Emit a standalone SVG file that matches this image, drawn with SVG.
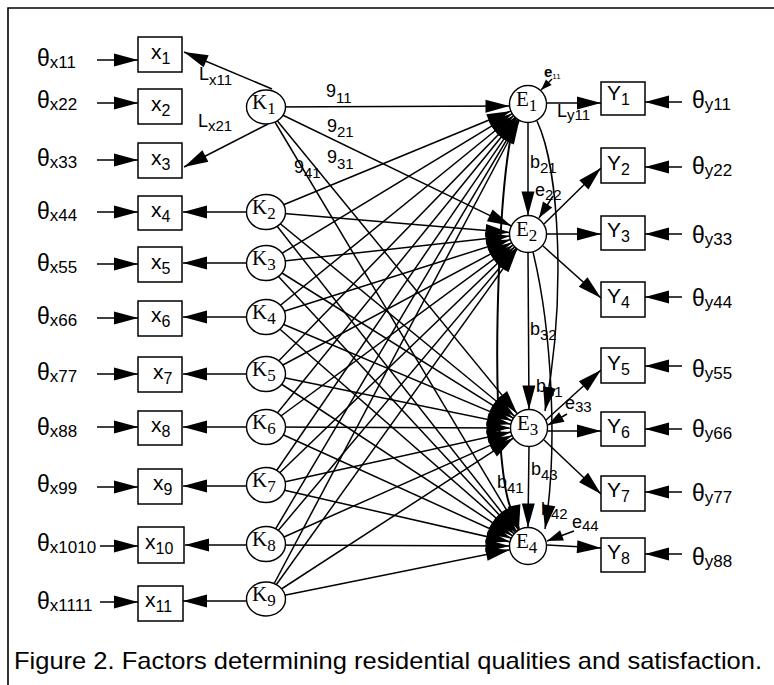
<svg xmlns="http://www.w3.org/2000/svg" width="774" height="685" viewBox="0 0 774 685">
<style>
.frame{fill:none;stroke:#000;stroke-width:1.6}
.box{fill:#fff;stroke:#000;stroke-width:1.5}
.circ{fill:#fff;stroke:#000;stroke-width:1.4}
.ln{stroke:#000;stroke-width:1.5;fill:none}
text{font-family:"Liberation Sans",Arial,sans-serif;fill:#000}
.th{font-size:23px}
.ts{font-size:17px}
.xl{font-size:21px}
.xs{font-size:16px}
.yl{font-size:21px}
.ys{font-size:16px}
.sf{font-family:"Liberation Serif","Times New Roman",serif;font-size:21px}
.sfs{font-family:"Liberation Serif","Times New Roman",serif;font-size:17px}
.lb{font-size:18px}
.lbs{font-size:15px}
.cap{font-size:24px}
</style>
<defs>
<marker id="a" markerUnits="userSpaceOnUse" markerWidth="24" markerHeight="13" refX="24" refY="6.5" orient="auto" overflow="visible"><path d="M0,0 L24,6.5 L0,13 z" fill="#000"/></marker>
<marker id="aE" markerUnits="userSpaceOnUse" markerWidth="24" markerHeight="13" refX="42.5" refY="6.5" orient="auto" overflow="visible"><path d="M0,0 L24,6.5 L0,13 z" fill="#000"/></marker>
<marker id="s" markerUnits="userSpaceOnUse" markerWidth="16" markerHeight="11" refX="16" refY="5.5" orient="auto" overflow="visible"><path d="M0,0 L16,5.5 L0,11 z" fill="#000"/></marker>
<marker id="t" markerUnits="userSpaceOnUse" markerWidth="11" markerHeight="8" refX="11" refY="4" orient="auto" overflow="visible"><path d="M0,0 L11,4 L0,8 z" fill="#000"/></marker>
</defs>
<rect width="774" height="685" fill="#fff"/>
<path class="frame" d="M8,685 V8 H774"/>

<g id="connectors" class="ln">
<line x1="97" y1="60" x2="138" y2="60" marker-end="url(#a)"/>
<line x1="97" y1="103" x2="138" y2="103" marker-end="url(#a)"/>
<line x1="97" y1="160" x2="138" y2="160" marker-end="url(#a)"/>
<line x1="97" y1="212" x2="138" y2="212" marker-end="url(#a)"/>
<line x1="97" y1="264" x2="138" y2="264" marker-end="url(#a)"/>
<line x1="97" y1="318" x2="138" y2="318" marker-end="url(#a)"/>
<line x1="97" y1="374" x2="138" y2="374" marker-end="url(#a)"/>
<line x1="97" y1="427" x2="138" y2="427" marker-end="url(#a)"/>
<line x1="97" y1="487" x2="138" y2="487" marker-end="url(#a)"/>
<line x1="100" y1="546" x2="138" y2="546" marker-end="url(#a)"/>
<line x1="100" y1="602" x2="138" y2="602" marker-end="url(#a)"/>
<line x1="272" y1="89" x2="184" y2="52" marker-end="url(#a)"/>
<line x1="268" y1="124" x2="184" y2="167" marker-end="url(#a)"/>
<line x1="247" y1="212" x2="183" y2="212" marker-end="url(#a)"/>
<line x1="247" y1="263" x2="183" y2="263" marker-end="url(#a)"/>
<line x1="247" y1="317" x2="183" y2="317" marker-end="url(#a)"/>
<line x1="247" y1="374" x2="183" y2="374" marker-end="url(#a)"/>
<line x1="247" y1="427" x2="183" y2="427" marker-end="url(#a)"/>
<line x1="247" y1="486" x2="183" y2="486" marker-end="url(#a)"/>
<line x1="247" y1="545" x2="185" y2="545" marker-end="url(#a)"/>
<line x1="247" y1="601" x2="183" y2="601" marker-end="url(#a)"/>
<line x1="266" y1="107" x2="528" y2="106" marker-end="url(#aE)"/>
<line x1="266" y1="107" x2="528" y2="234" marker-end="url(#aE)"/>
<line x1="266" y1="107" x2="529" y2="428" marker-end="url(#aE)"/>
<line x1="266" y1="107" x2="528" y2="546" marker-end="url(#aE)"/>
<line x1="266" y1="212" x2="528" y2="104" marker-end="url(#aE)"/>
<line x1="266" y1="212" x2="528" y2="234" marker-end="url(#aE)"/>
<line x1="266" y1="212" x2="529" y2="428" marker-end="url(#aE)"/>
<line x1="266" y1="212" x2="528" y2="546" marker-end="url(#aE)"/>
<line x1="266" y1="263" x2="528" y2="104" marker-end="url(#aE)"/>
<line x1="266" y1="263" x2="528" y2="234" marker-end="url(#aE)"/>
<line x1="266" y1="263" x2="529" y2="428" marker-end="url(#aE)"/>
<line x1="266" y1="263" x2="528" y2="546" marker-end="url(#aE)"/>
<line x1="266" y1="317" x2="528" y2="104" marker-end="url(#aE)"/>
<line x1="266" y1="317" x2="528" y2="234" marker-end="url(#aE)"/>
<line x1="266" y1="317" x2="529" y2="428" marker-end="url(#aE)"/>
<line x1="266" y1="317" x2="528" y2="546" marker-end="url(#aE)"/>
<line x1="266" y1="374" x2="528" y2="104" marker-end="url(#aE)"/>
<line x1="266" y1="374" x2="528" y2="234" marker-end="url(#aE)"/>
<line x1="266" y1="374" x2="529" y2="428" marker-end="url(#aE)"/>
<line x1="266" y1="374" x2="528" y2="546" marker-end="url(#aE)"/>
<line x1="266" y1="427" x2="528" y2="104" marker-end="url(#aE)"/>
<line x1="266" y1="427" x2="528" y2="234" marker-end="url(#aE)"/>
<line x1="266" y1="427" x2="529" y2="428" marker-end="url(#aE)"/>
<line x1="266" y1="427" x2="528" y2="546" marker-end="url(#aE)"/>
<line x1="266" y1="486" x2="528" y2="104" marker-end="url(#aE)"/>
<line x1="266" y1="486" x2="528" y2="234" marker-end="url(#aE)"/>
<line x1="266" y1="486" x2="529" y2="428" marker-end="url(#aE)"/>
<line x1="266" y1="486" x2="528" y2="546" marker-end="url(#aE)"/>
<line x1="266" y1="545" x2="528" y2="104" marker-end="url(#aE)"/>
<line x1="266" y1="545" x2="528" y2="234" marker-end="url(#aE)"/>
<line x1="266" y1="545" x2="529" y2="428" marker-end="url(#aE)"/>
<line x1="266" y1="545" x2="528" y2="546" marker-end="url(#aE)"/>
<line x1="266" y1="599" x2="528" y2="104" marker-end="url(#aE)"/>
<line x1="266" y1="599" x2="528" y2="234" marker-end="url(#aE)"/>
<line x1="266" y1="599" x2="529" y2="428" marker-end="url(#aE)"/>
<line x1="266" y1="599" x2="528" y2="546" marker-end="url(#aE)"/>
<line x1="528" y1="122" x2="528" y2="215.5" marker-end="url(#a)"/>
<line x1="528" y1="252.5" x2="529" y2="409.5" marker-end="url(#a)"/>
<line x1="529" y1="446.5" x2="528" y2="527.5" marker-end="url(#a)"/>
<path d="M537,121 C560,170 566,300 545,411" marker-end="url(#a)"/>
<path d="M533,252 C552,330 558,450 545,529" marker-end="url(#a)"/>
<path d="M515,118 C498,180 494,360 500,440 S515,510 519,529" marker-end="url(#a)" stroke-width="2"/>
<line x1="552" y1="79" x2="541" y2="90" marker-end="url(#t)"/>
<line x1="553" y1="196" x2="539" y2="218" marker-end="url(#s)"/>
<line x1="567" y1="414" x2="548" y2="425" marker-end="url(#s)"/>
<line x1="574" y1="531" x2="547" y2="541" marker-end="url(#s)"/>
<line x1="547" y1="103" x2="601" y2="103" marker-end="url(#a)"/>
<line x1="544" y1="224" x2="601" y2="168" marker-end="url(#a)"/>
<line x1="547" y1="234" x2="601" y2="234" marker-end="url(#a)"/>
<line x1="543" y1="246" x2="601" y2="298" marker-end="url(#a)"/>
<line x1="546" y1="420" x2="601" y2="370" marker-end="url(#a)"/>
<line x1="548" y1="431" x2="601" y2="431" marker-end="url(#a)"/>
<line x1="544" y1="440" x2="601" y2="494" marker-end="url(#a)"/>
<line x1="547" y1="545" x2="601" y2="548" marker-end="url(#a)"/>
<line x1="682" y1="102" x2="645" y2="102" marker-end="url(#a)"/>
<line x1="682" y1="167" x2="645" y2="167" marker-end="url(#a)"/>
<line x1="682" y1="234" x2="645" y2="234" marker-end="url(#a)"/>
<line x1="682" y1="297" x2="645" y2="297" marker-end="url(#a)"/>
<line x1="682" y1="366" x2="645" y2="366" marker-end="url(#a)"/>
<line x1="682" y1="429" x2="645" y2="429" marker-end="url(#a)"/>
<line x1="682" y1="492" x2="645" y2="492" marker-end="url(#a)"/>
<line x1="682" y1="554" x2="645" y2="554" marker-end="url(#a)"/>
</g>

<g id="path-labels">
<text class="lb" x="199" y="80" font-size="16">L<tspan class="lbs" dy="5">x11</tspan></text>
<text class="lb" x="198" y="127" font-size="16">L<tspan class="lbs" dy="4">x21</tspan></text>
<text class="lb" x="326" y="97">9<tspan class="lbs" dy="6">11</tspan></text>
<text class="lb" x="327" y="132">9<tspan class="lbs" dy="5">21</tspan></text>
<text class="lb" x="327" y="163">9<tspan class="lbs" dy="6">31</tspan></text>
<text class="lb" x="294" y="173">9<tspan class="lbs" dy="5">41</tspan></text>
<text class="lb" x="530" y="168" font-size="19">b<tspan class="lbs" dy="5">21</tspan></text>
<text class="lb" x="530" y="335" font-size="19">b<tspan class="lbs" dy="5">32</tspan></text>
<text class="lb" x="536" y="392" font-size="19">b<tspan class="lbs" dy="5">31</tspan></text>
<text class="lb" x="531" y="475" font-size="19">b<tspan class="lbs" dy="5">43</tspan></text>
<text class="lb" x="497" y="488" font-size="19">b<tspan class="lbs" dy="5">41</tspan></text>
<text class="lb" x="541" y="515" font-size="19">b<tspan class="lbs" dy="4">42</tspan></text>
<text class="lb" x="557" y="117" font-size="16">L<tspan class="lbs" dy="3">y11</tspan></text>
<text x="544" y="77" font-size="15" font-weight="bold">e<tspan font-size="8" font-weight="normal" dy="2">11</tspan></text>
<text class="lb" x="535" y="196" font-size="17">e<tspan class="lbs" dy="4">22</tspan></text>
<text class="lb" x="565" y="409" font-size="17">e<tspan class="lbs" dy="3">33</tspan></text>
<text class="lb" x="572" y="528" font-size="17">e<tspan class="lbs" dy="3">44</tspan></text>
</g>

<g id="theta-x">
<text class="th" x="37" y="66">θ<tspan class="ts" dy="2">x11</tspan></text>
<text class="th" x="37" y="108">θ<tspan class="ts" dy="2">x22</tspan></text>
<text class="th" x="37" y="166">θ<tspan class="ts" dy="2">x33</tspan></text>
<text class="th" x="37" y="219">θ<tspan class="ts" dy="2">x44</tspan></text>
<text class="th" x="37" y="271">θ<tspan class="ts" dy="2">x55</tspan></text>
<text class="th" x="37" y="324">θ<tspan class="ts" dy="2">x66</tspan></text>
<text class="th" x="37" y="380">θ<tspan class="ts" dy="2">x77</tspan></text>
<text class="th" x="37" y="435">θ<tspan class="ts" dy="2">x88</tspan></text>
<text class="th" x="37" y="492">θ<tspan class="ts" dy="2">x99</tspan></text>
<text class="th" x="37" y="551">θ<tspan class="ts" dy="2">x1010</tspan></text>
<text class="th" x="37" y="609">θ<tspan class="ts" dy="2">x1111</tspan></text>
</g>

<g id="theta-y">
<text class="th" x="692" y="108">θ<tspan class="ts" dy="2">y11</tspan></text>
<text class="th" x="692" y="174">θ<tspan class="ts" dy="2">y22</tspan></text>
<text class="th" x="692" y="243">θ<tspan class="ts" dy="2">y33</tspan></text>
<text class="th" x="692" y="306">θ<tspan class="ts" dy="2">y44</tspan></text>
<text class="th" x="692" y="377">θ<tspan class="ts" dy="2">y55</tspan></text>
<text class="th" x="692" y="437">θ<tspan class="ts" dy="2">y66</tspan></text>
<text class="th" x="692" y="501">θ<tspan class="ts" dy="2">y77</tspan></text>
<text class="th" x="692" y="565">θ<tspan class="ts" dy="2">y88</tspan></text>
</g>

<g id="x1"><rect class="box" x="138" y="37" width="44" height="35"/><text class="xl" x="151" y="59">x<tspan class="xs" dy="5">1</tspan></text></g>
<g id="x2"><rect class="box" x="138" y="89" width="44" height="35"/><text class="xl" x="151" y="111">x<tspan class="xs" dy="5">2</tspan></text></g>
<g id="x3"><rect class="box" x="138" y="143" width="44" height="35"/><text class="xl" x="151" y="165">x<tspan class="xs" dy="5">3</tspan></text></g>
<g id="x4"><rect class="box" x="138" y="196" width="44" height="34"/><text class="xl" x="151" y="217">x<tspan class="xs" dy="5">4</tspan></text></g>
<g id="x5"><rect class="box" x="138" y="247" width="44" height="35"/><text class="xl" x="151" y="269">x<tspan class="xs" dy="5">5</tspan></text></g>
<g id="x6"><rect class="box" x="138" y="301" width="44" height="35"/><text class="xl" x="151" y="322">x<tspan class="xs" dy="5">6</tspan></text></g>
<g id="x7"><rect class="box" x="138" y="357" width="44" height="35"/><text class="xl" x="153" y="379">x<tspan class="xs" dy="5">7</tspan></text></g>
<g id="x8"><rect class="box" x="138" y="411" width="44" height="34"/><text class="xl" x="151" y="432">x<tspan class="xs" dy="5">8</tspan></text></g>
<g id="x9"><rect class="box" x="138" y="469" width="44" height="35"/><text class="xl" x="153" y="490">x<tspan class="xs" dy="5">9</tspan></text></g>
<g id="x10"><rect class="box" x="138" y="527" width="46" height="36"/><text class="xl" x="145" y="549">x<tspan class="xs" dy="5">10</tspan></text></g>
<g id="x11"><rect class="box" x="138" y="586" width="45" height="35"/><text class="xl" x="145" y="607">x<tspan class="xs" dy="5">11</tspan></text></g>

<g id="K1"><ellipse class="circ" cx="266" cy="107" rx="19.5" ry="17"/><text class="sf" x="252" y="109">K<tspan class="sfs" dy="5">1</tspan></text></g>
<g id="K2"><ellipse class="circ" cx="266" cy="212" rx="19.5" ry="17.5"/><text class="sf" x="252" y="214">K<tspan class="sfs" dy="5">2</tspan></text></g>
<g id="K3"><ellipse class="circ" cx="266" cy="263" rx="19.5" ry="17.5"/><text class="sf" x="252" y="265">K<tspan class="sfs" dy="5">3</tspan></text></g>
<g id="K4"><ellipse class="circ" cx="266" cy="317" rx="19.5" ry="17.5"/><text class="sf" x="252" y="319">K<tspan class="sfs" dy="5">4</tspan></text></g>
<g id="K5"><ellipse class="circ" cx="266" cy="374" rx="19.5" ry="17.5"/><text class="sf" x="252" y="376">K<tspan class="sfs" dy="5">5</tspan></text></g>
<g id="K6"><ellipse class="circ" cx="266" cy="427" rx="19.5" ry="17.5"/><text class="sf" x="252" y="429">K<tspan class="sfs" dy="5">6</tspan></text></g>
<g id="K7"><ellipse class="circ" cx="266" cy="485" rx="19.5" ry="17.5"/><text class="sf" x="252" y="487">K<tspan class="sfs" dy="5">7</tspan></text></g>
<g id="K8"><ellipse class="circ" cx="266" cy="544" rx="19.5" ry="17.5"/><text class="sf" x="252" y="546">K<tspan class="sfs" dy="5">8</tspan></text></g>
<g id="K9"><ellipse class="circ" cx="266" cy="599" rx="19.5" ry="17"/><text class="sf" x="252" y="601">K<tspan class="sfs" dy="5">9</tspan></text></g>

<g id="E1"><circle class="circ" cx="528" cy="104" r="18.5"/><text class="sf" x="516" y="106">E<tspan class="sfs" dy="5">1</tspan></text></g>
<g id="E2"><circle class="circ" cx="528" cy="234" r="18.5"/><text class="sf" x="516" y="236">E<tspan class="sfs" dy="5">2</tspan></text></g>
<g id="E3"><circle class="circ" cx="529" cy="428" r="18.5"/><text class="sf" x="517" y="430">E<tspan class="sfs" dy="5">3</tspan></text></g>
<g id="E4"><circle class="circ" cx="528" cy="546" r="18.5"/><text class="sf" x="516" y="548">E<tspan class="sfs" dy="5">4</tspan></text></g>

<g id="Y1"><rect class="box" x="601" y="82" width="44" height="33"/><text class="yl" x="607" y="100">Y<tspan class="ys" dy="5">1</tspan></text></g>
<g id="Y2"><rect class="box" x="601" y="148" width="44" height="35"/><text class="yl" x="607" y="170">Y<tspan class="ys" dy="5">2</tspan></text></g>
<g id="Y3"><rect class="box" x="601" y="216" width="44" height="34"/><text class="yl" x="607" y="237">Y<tspan class="ys" dy="5">3</tspan></text></g>
<g id="Y4"><rect class="box" x="601" y="282" width="44" height="35"/><text class="yl" x="607" y="303">Y<tspan class="ys" dy="5">4</tspan></text></g>
<g id="Y5"><rect class="box" x="601" y="348" width="44" height="35"/><text class="yl" x="607" y="370">Y<tspan class="ys" dy="5">5</tspan></text></g>
<g id="Y6"><rect class="box" x="601" y="412" width="44" height="34"/><text class="yl" x="607" y="433">Y<tspan class="ys" dy="5">6</tspan></text></g>
<g id="Y7"><rect class="box" x="601" y="476" width="44" height="35"/><text class="yl" x="607" y="497">Y<tspan class="ys" dy="5">7</tspan></text></g>
<g id="Y8"><rect class="box" x="601" y="538" width="44" height="34"/><text class="yl" x="607" y="559">Y<tspan class="ys" dy="5">8</tspan></text></g>

<text class="cap" x="14" y="669" textLength="748" lengthAdjust="spacingAndGlyphs">Figure 2. Factors determining residential qualities and satisfaction.</text>
</svg>
